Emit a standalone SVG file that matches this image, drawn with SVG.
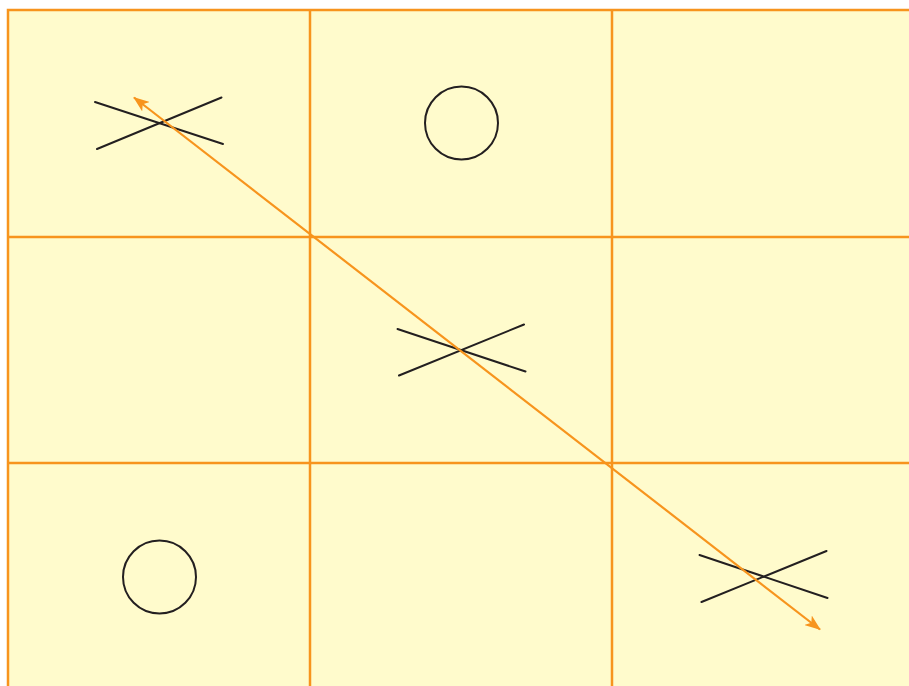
<svg xmlns="http://www.w3.org/2000/svg" width="909" height="686" viewBox="0 0 909 686">
<style>
.grid{stroke:#F7941D;stroke-width:2.5;fill:none}
.mark{stroke:#231F20;stroke-width:2;fill:none;stroke-linecap:round}
.conn{stroke:#F7941D;stroke-width:2.2;fill:none}
</style>
<defs>
<marker id="ah" viewBox="0 0 16 12" refX="15" refY="6" markerWidth="16" markerHeight="12" markerUnits="userSpaceOnUse" orient="auto-start-reverse">
<path d="M0,0 L16,6 L0,12 L4,6 Z" fill="#F7941D"/>
</marker>
</defs>
<rect x="0" y="0" width="909" height="686" fill="#ffffff"/>
<g id="board">
<rect x="8" y="10" width="910" height="690" style="fill:#FFFBCC;stroke:#F7941D;stroke-width:2.5"/>
<line class="grid" x1="310" y1="10" x2="310" y2="686"/>
<line class="grid" x1="612" y1="10" x2="612" y2="686"/>
<line class="grid" x1="8" y1="237" x2="909" y2="237"/>
<line class="grid" x1="8" y1="463" x2="909" y2="463"/>
</g>
<g id="x1"><line class="mark" x1="95" y1="102" x2="223" y2="144"/><line class="mark" x1="97" y1="149" x2="221.5" y2="97.5"/></g>
<g id="o1"><circle class="mark" cx="461.5" cy="123" r="36.5"/></g>
<g id="x2"><line class="mark" x1="397.5" y1="329" x2="525.5" y2="371.5"/><line class="mark" x1="399" y1="375.5" x2="524" y2="324.5"/></g>
<g id="o2"><circle class="mark" cx="159.5" cy="577" r="36.5"/></g>
<g id="x3"><line class="mark" x1="699.5" y1="555" x2="827.5" y2="598"/><line class="mark" x1="701.5" y1="602" x2="826.5" y2="551"/></g>
<g id="connectors">
<line class="conn" x1="134" y1="97.5" x2="820" y2="629.5" marker-start="url(#ah)" marker-end="url(#ah)"/>
</g>
</svg>
